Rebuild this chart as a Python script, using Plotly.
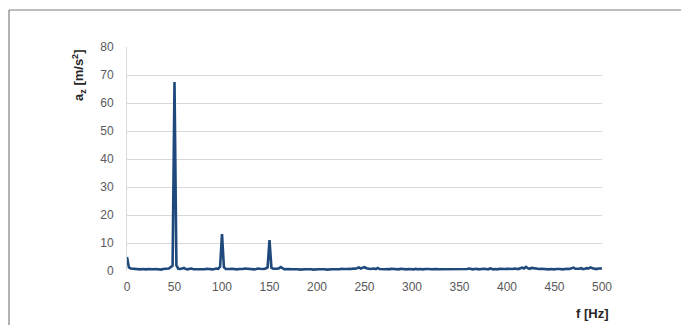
import plotly.graph_objects as go

# Frequency axis (Hz), 2 Hz steps from 0 to 500
freq_hz = list(range(0, 502, 2))

# Acceleration amplitude a_z [m/s^2]
amp = [
    # 0-18
    5.0, 1.3, 0.9, 0.8, 0.7, 0.8, 0.7, 0.6, 0.7, 0.6,
    # 20-38
    0.6, 0.7, 0.6, 0.5, 0.6, 0.7, 0.6, 0.6, 0.5, 0.7,
    # 40-58
    0.8, 1.0, 0.9, 1.4, 1.9, 67.5, 2.0, 0.8, 0.7, 0.9,
    # 60-78
    1.1, 0.7, 0.6, 0.8, 0.9, 0.6, 0.6, 0.7, 0.5, 0.6,
    # 80-98
    0.7, 0.6, 0.8, 0.7, 0.8, 0.6, 0.7, 0.9, 0.8, 1.5,
    # 100-118
    13.2, 1.4, 0.7, 0.6, 0.7, 0.8, 0.7, 0.6, 0.6, 0.7,
    # 120-138
    0.6, 0.7, 0.9, 0.8, 0.7, 0.6, 0.7, 0.6, 0.7, 0.9,
    # 140-158
    0.8, 0.7, 0.7, 0.9, 1.3, 11.0, 1.2, 0.8, 0.7, 0.8,
    # 160-178
    1.0, 1.4, 0.9, 0.6, 0.7, 0.6, 0.7, 0.6, 0.6, 0.7,
    # 180-198
    0.6, 0.5, 0.6, 0.7, 0.6, 0.6, 0.7, 0.6, 0.5, 0.6,
    # 200-218
    0.7, 0.6, 0.6, 0.7, 0.6, 0.5, 0.6, 0.7, 0.6, 0.6,
    # 220-238
    0.7, 0.6, 0.6, 0.8, 0.7, 0.6, 0.7, 0.8, 0.7, 0.9,
    # 240-258
    0.8, 1.0, 1.3, 0.9, 1.1, 1.4, 1.0, 0.8, 0.7, 0.8,
    # 260-278
    0.9, 0.7, 1.1, 0.7, 0.6, 0.7, 0.6, 0.7, 0.6, 0.8,
    # 280-298
    0.7, 0.6, 0.7, 0.6, 0.8, 0.7, 0.6, 0.6, 0.7, 0.6,
    # 300-318
    0.7, 0.6, 0.8, 0.6, 0.7, 0.6, 0.6, 0.7, 0.8, 0.7,
    # 320-338
    0.6, 0.7, 0.6, 0.7, 0.6, 0.6, 0.8, 0.7, 0.6, 0.7,
    # 340-358
    0.6, 0.7, 0.6, 0.8, 0.7, 0.6, 0.7, 0.8, 0.6, 0.7,
    # 360-378
    0.9, 0.7, 0.6, 0.7, 0.8, 0.6, 0.7, 0.6, 0.8, 0.7,
    # 380-398
    0.6, 0.9, 0.7, 0.6, 0.7, 0.6, 0.8, 0.7, 0.6, 0.7,
    # 400-418
    0.8, 0.7, 0.6, 0.7, 0.9, 0.8, 0.7, 1.0, 1.2, 0.9,
    # 420-438
    1.5, 1.0, 0.8, 1.1, 1.0, 0.8, 0.9, 0.7, 0.8, 0.7,
    # 440-458
    0.6, 0.7, 0.6, 0.7, 0.6, 0.6, 0.7, 0.8, 0.7, 0.6,
    # 460-478
    0.7, 0.6, 0.8, 0.7, 0.9, 1.2, 0.8, 0.7, 0.8, 1.0,
    # 480-498
    0.7, 0.8, 1.0, 0.9, 1.3, 1.0, 0.8, 0.7, 0.9, 0.8,
    # 500
    0.9,
]

x_ticks = [0, 50, 100, 150, 200, 250, 300, 350, 400, 450, 500]
y_ticks = [0, 10, 20, 30, 40, 50, 60, 70, 80]

# The page body adds an 8 px offset; size the figure to the remaining window.
OFF = 8
W, H = 689 - OFF, 325 - OFF
# plot area in window pixels: x 127..602, y 47..271
L, T = 127 - OFF, 47 - OFF
R = W - (602 - OFF)
B = H - (271 - OFF)
pw, ph = W - L - R, H - T - B

def px_to_paper_x(px):
    return (px - OFF - L) / pw

def px_to_paper_y(py):
    return (H - B - (py - OFF)) / ph

fig = go.Figure()
fig.add_trace(go.Scatter(
    x=freq_hz, y=amp, mode="lines",
    line=dict(color="#1F497D", width=2.6),
    hoverinfo="skip", showlegend=False,
))

tick_font = dict(family="Liberation Sans, Arial, sans-serif", size=12, color="#595959")

fig.update_layout(
    width=W, height=H,
    margin=dict(l=L, r=R, t=T, b=B),
    paper_bgcolor="white", plot_bgcolor="white",
    xaxis=dict(
        range=[0, 500], tickvals=x_ticks, ticktext=[str(v) for v in x_ticks],
        showgrid=False, zeroline=False, showline=False,
        ticks="", tickfont=tick_font, ticklabelstandoff=7,
    ),
    yaxis=dict(
        range=[0, 80], tickvals=y_ticks, ticktext=[str(v) for v in y_ticks],
        showgrid=True, gridcolor="#D9D9D9", gridwidth=1.2,
        zeroline=False, showline=True, linecolor="#D9D9D9", linewidth=1,
        ticks="", tickfont=tick_font, ticklabelstandoff=10,
    ),
    shapes=[
        # outer frame: top, left, right
        dict(type="line", xref="paper", yref="paper",
             x0=px_to_paper_x(9), x1=px_to_paper_x(683),
             y0=px_to_paper_y(10), y1=px_to_paper_y(10),
             line=dict(color="#7F7F7F", width=1.2)),
        dict(type="line", xref="paper", yref="paper",
             x0=px_to_paper_x(9), x1=px_to_paper_x(9),
             y0=px_to_paper_y(10), y1=px_to_paper_y(330),
             line=dict(color="#7F7F7F", width=1.2)),
        dict(type="line", xref="paper", yref="paper",
             x0=px_to_paper_x(683), x1=px_to_paper_x(683),
             y0=px_to_paper_y(10), y1=px_to_paper_y(330),
             line=dict(color="#7F7F7F", width=1.2)),
    ],
    annotations=[
        dict(text="<b>f [Hz]</b>", xref="paper", yref="paper",
             x=px_to_paper_x(592), y=px_to_paper_y(313),
             xanchor="center", yanchor="middle", showarrow=False,
             font=dict(family="Liberation Sans, Arial, sans-serif", size=13, color="#262626")),
        dict(text="<b>a<sub>z</sub> [m/s<sup>2</sup>]</b>", xref="paper", yref="paper",
             x=px_to_paper_x(79), y=px_to_paper_y(75), textangle=-90,
             xanchor="center", yanchor="middle", showarrow=False,
             font=dict(family="Liberation Sans, Arial, sans-serif", size=13, color="#262626")),
    ],
)

fig.write_html("out.html")
